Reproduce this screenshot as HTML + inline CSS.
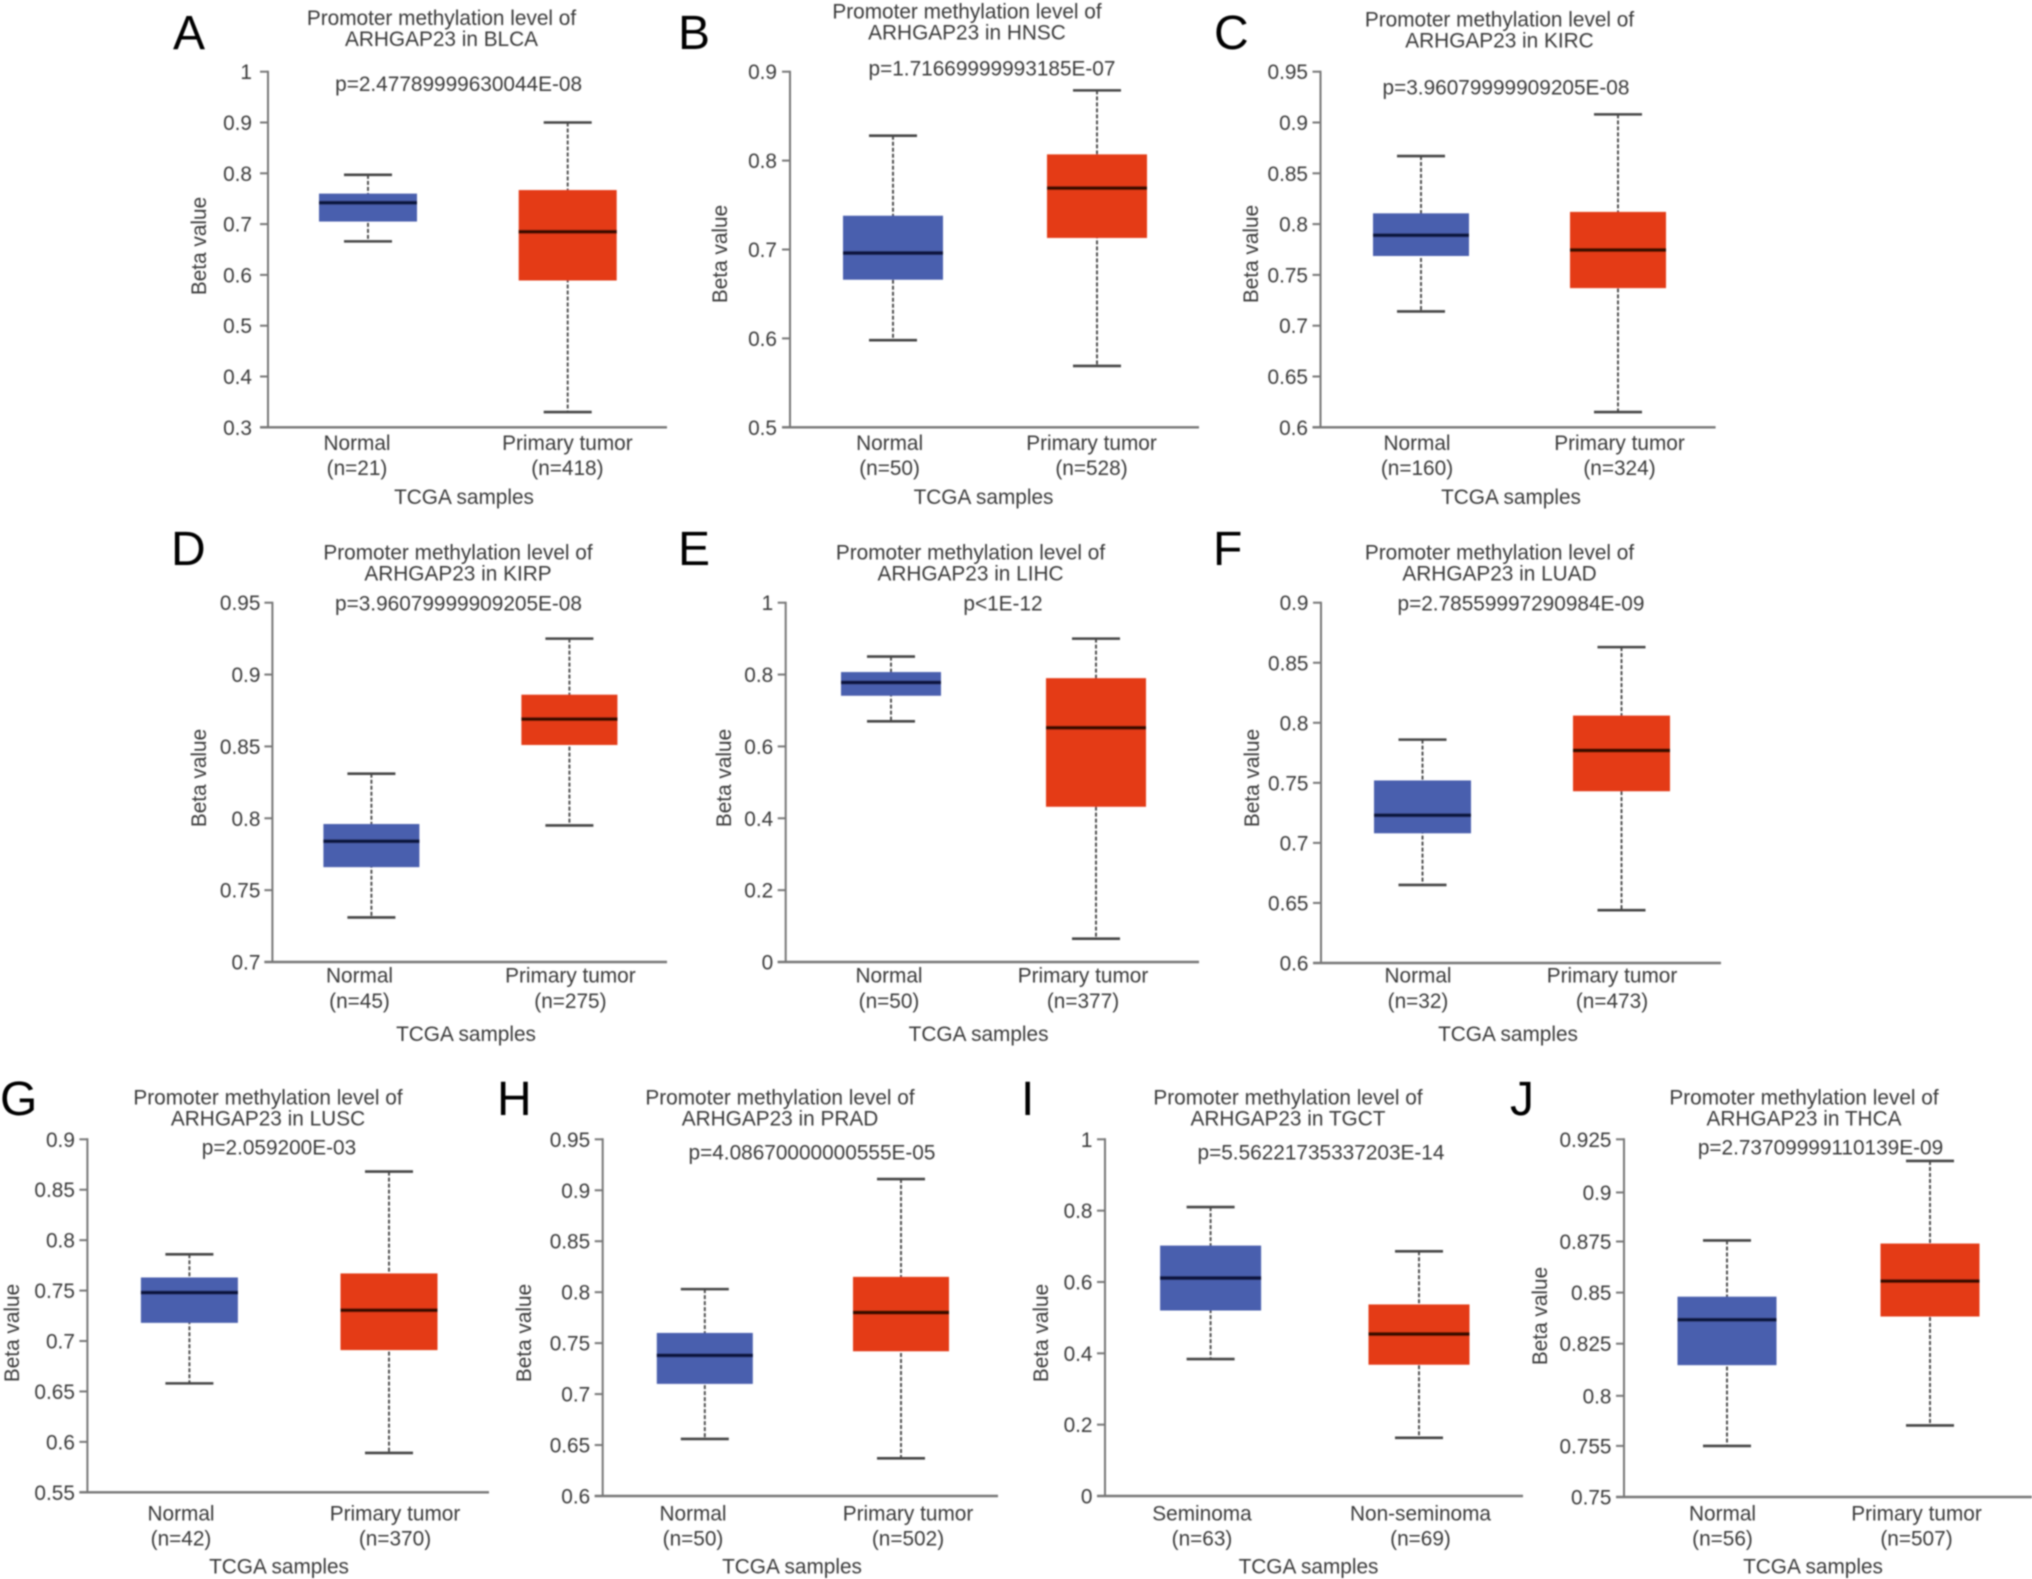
<!DOCTYPE html>
<html lang="en">
<head>
<meta charset="utf-8">
<title>ARHGAP23 promoter methylation boxplots</title>
<style>
html,body{margin:0;padding:0;background:#fff;width:2032px;height:1579px;overflow:hidden}
svg{display:block}
text{font-family:"Liberation Sans",sans-serif;fill:#3a3a3a;font-size:20.8px}
.mid{text-anchor:middle}
.letter{font-size:48px;fill:#000}
.ylab{text-anchor:middle}
</style>
</head>
<body>
<svg id="figure" xmlns="http://www.w3.org/2000/svg" width="2032" height="1579" viewBox="0 0 2032 1579">
<defs><filter id="soft" x="0" y="0" width="100%" height="100%"><feGaussianBlur stdDeviation="0.7"/></filter></defs>
<rect width="2032" height="1579" fill="#fff"/>
<g id="root" filter="url(#soft)">

<g id="panel-0">
<text class="letter" x="173" y="49">A</text>
<text class="mid" x="441.5" y="25">Promoter methylation level of</text>
<text class="mid" x="441.5" y="46">ARHGAP23 in BLCA</text>
<text class="mid" x="458.6" y="91">p=2.47789999630044E-08</text>
<text class="ylab" transform="translate(206,246) rotate(-90)">Beta value</text>
<text class="mid" x="357" y="450">Normal</text>
<text class="mid" x="357" y="475">(n=21)</text>
<text class="mid" x="567.4" y="450">Primary tumor</text>
<text class="mid" x="567.4" y="475">(n=418)</text>
<text class="mid" x="464" y="504">TCGA samples</text>
</g>

<g id="panel-1">
<text class="letter" x="678" y="49">B</text>
<text class="mid" x="967" y="18.5">Promoter methylation level of</text>
<text class="mid" x="967" y="39.5">ARHGAP23 in HNSC</text>
<text class="mid" x="992" y="75.5">p=1.71669999993185E-07</text>
<text class="ylab" transform="translate(727,254) rotate(-90)">Beta value</text>
<text class="mid" x="889.6" y="450">Normal</text>
<text class="mid" x="889.6" y="475">(n=50)</text>
<text class="mid" x="1091.5" y="450">Primary tumor</text>
<text class="mid" x="1091.5" y="475">(n=528)</text>
<text class="mid" x="983.5" y="504">TCGA samples</text>
</g>

<g id="panel-2">
<text class="letter" x="1214" y="49">C</text>
<text class="mid" x="1499.5" y="26.5">Promoter methylation level of</text>
<text class="mid" x="1499.5" y="47.5">ARHGAP23 in KIRC</text>
<text class="mid" x="1506" y="94.5">p=3.96079999909205E-08</text>
<text class="ylab" transform="translate(1258,254) rotate(-90)">Beta value</text>
<text class="mid" x="1417" y="450">Normal</text>
<text class="mid" x="1417" y="475">(n=160)</text>
<text class="mid" x="1619.5" y="450">Primary tumor</text>
<text class="mid" x="1619.5" y="475">(n=324)</text>
<text class="mid" x="1511" y="504">TCGA samples</text>
</g>

<g id="panel-3">
<text class="letter" x="171" y="565">D</text>
<text class="mid" x="458" y="559.5">Promoter methylation level of</text>
<text class="mid" x="458" y="580.5">ARHGAP23 in KIRP</text>
<text class="mid" x="458.5" y="610.5">p=3.96079999909205E-08</text>
<text class="ylab" transform="translate(206,778) rotate(-90)">Beta value</text>
<text class="mid" x="359.5" y="982.7">Normal</text>
<text class="mid" x="359.5" y="1008">(n=45)</text>
<text class="mid" x="570.4" y="982.7">Primary tumor</text>
<text class="mid" x="570.4" y="1008">(n=275)</text>
<text class="mid" x="466" y="1041">TCGA samples</text>
</g>

<g id="panel-4">
<text class="letter" x="678" y="565">E</text>
<text class="mid" x="970.5" y="559.5">Promoter methylation level of</text>
<text class="mid" x="970.5" y="580.5">ARHGAP23 in LIHC</text>
<text class="mid" x="1003" y="610.5">p&lt;1E-12</text>
<text class="ylab" transform="translate(731,778) rotate(-90)">Beta value</text>
<text class="mid" x="889" y="982.7">Normal</text>
<text class="mid" x="889" y="1008">(n=50)</text>
<text class="mid" x="1083" y="982.7">Primary tumor</text>
<text class="mid" x="1083" y="1008">(n=377)</text>
<text class="mid" x="978.6" y="1041">TCGA samples</text>
</g>

<g id="panel-5">
<text class="letter" x="1213" y="565">F</text>
<text class="mid" x="1499.5" y="559.5">Promoter methylation level of</text>
<text class="mid" x="1499.5" y="580.5">ARHGAP23 in LUAD</text>
<text class="mid" x="1521" y="610.5">p=2.78559997290984E-09</text>
<text class="ylab" transform="translate(1259,778) rotate(-90)">Beta value</text>
<text class="mid" x="1418" y="982.7">Normal</text>
<text class="mid" x="1418" y="1008">(n=32)</text>
<text class="mid" x="1612" y="982.7">Primary tumor</text>
<text class="mid" x="1612" y="1008">(n=473)</text>
<text class="mid" x="1508" y="1041">TCGA samples</text>
</g>

<g id="panel-6">
<text class="letter" x="0" y="1115">G</text>
<text class="mid" x="268" y="1104.5">Promoter methylation level of</text>
<text class="mid" x="268" y="1125.5">ARHGAP23 in LUSC</text>
<text class="mid" x="279" y="1154.5">p=2.059200E-03</text>
<text class="ylab" transform="translate(19,1333) rotate(-90)">Beta value</text>
<text class="mid" x="181" y="1520.7">Normal</text>
<text class="mid" x="181" y="1545.7">(n=42)</text>
<text class="mid" x="395" y="1520.7">Primary tumor</text>
<text class="mid" x="395" y="1545.7">(n=370)</text>
<text class="mid" x="279" y="1573.7">TCGA samples</text>
</g>

<g id="panel-7">
<text class="letter" x="497" y="1115">H</text>
<text class="mid" x="780" y="1104.5">Promoter methylation level of</text>
<text class="mid" x="780" y="1125.5">ARHGAP23 in PRAD</text>
<text class="mid" x="812" y="1159.5">p=4.08670000000555E-05</text>
<text class="ylab" transform="translate(531,1333) rotate(-90)">Beta value</text>
<text class="mid" x="693" y="1520.7">Normal</text>
<text class="mid" x="693" y="1545.7">(n=50)</text>
<text class="mid" x="908" y="1520.7">Primary tumor</text>
<text class="mid" x="908" y="1545.7">(n=502)</text>
<text class="mid" x="792" y="1573.7">TCGA samples</text>
</g>

<g id="panel-8">
<text class="letter" x="1021" y="1115">I</text>
<text class="mid" x="1288" y="1104.5">Promoter methylation level of</text>
<text class="mid" x="1288" y="1125.5">ARHGAP23 in TGCT</text>
<text class="mid" x="1321" y="1159.5">p=5.56221735337203E-14</text>
<text class="ylab" transform="translate(1048,1333) rotate(-90)">Beta value</text>
<text class="mid" x="1202" y="1520.7">Seminoma</text>
<text class="mid" x="1202" y="1545.7">(n=63)</text>
<text class="mid" x="1420.5" y="1520.7">Non-seminoma</text>
<text class="mid" x="1420.5" y="1545.7">(n=69)</text>
<text class="mid" x="1308.5" y="1573.7">TCGA samples</text>
</g>

<g id="panel-9">
<text class="letter" x="1510" y="1115">J</text>
<text class="mid" x="1804" y="1104.5">Promoter methylation level of</text>
<text class="mid" x="1804" y="1125.5">ARHGAP23 in THCA</text>
<text class="mid" x="1820.5" y="1154.5">p=2.73709999110139E-09</text>
<text class="ylab" transform="translate(1547,1316) rotate(-90)">Beta value</text>
<text class="mid" x="1722.5" y="1520.7">Normal</text>
<text class="mid" x="1722.5" y="1545.7">(n=56)</text>
<text class="mid" x="1916.5" y="1520.7">Primary tumor</text>
<text class="mid" x="1916.5" y="1545.7">(n=507)</text>
<text class="mid" x="1813" y="1573.7">TCGA samples</text>
</g>
</g>
</svg>
<script>
// Chart values, one entry per panel (A..J); each pair is [first group, second group].
const cancers = ['blca','hnsc','kirc','kirp','lihc','luad','lusc','prad','tgct','thca'];
const tickValues = [
  [0.3,0.4,0.5,0.6,0.7,0.8,0.9,1],
  [0.5,0.6,0.7,0.8,0.9],
  [0.6,0.65,0.7,0.75,0.8,0.85,0.9,0.95],
  [0.7,0.75,0.8,0.85,0.9,0.95],
  [0,0.2,0.4,0.6,0.8,1],
  [0.6,0.65,0.7,0.75,0.8,0.85,0.9],
  [0.55,0.6,0.65,0.7,0.75,0.8,0.85,0.9],
  [0.6,0.65,0.7,0.75,0.8,0.85,0.9,0.95],
  [0,0.2,0.4,0.6,0.8,1],
  [0.75,0.775,0.7995,0.825,0.85,0.875,0.899,0.925]
];
const tickLabels = [
  ['0.3','0.4','0.5','0.6','0.7','0.8','0.9','1'],
  ['0.5','0.6','0.7','0.8','0.9'],
  ['0.6','0.65','0.7','0.75','0.8','0.85','0.9','0.95'],
  ['0.7','0.75','0.8','0.85','0.9','0.95'],
  ['0','0.2','0.4','0.6','0.8','1'],
  ['0.6','0.65','0.7','0.75','0.8','0.85','0.9'],
  ['0.55','0.6','0.65','0.7','0.75','0.8','0.85','0.9'],
  ['0.6','0.65','0.7','0.75','0.8','0.85','0.9','0.95'],
  ['0','0.2','0.4','0.6','0.8','1'],
  ['0.75','0.755','0.8','0.825','0.85','0.875','0.9','0.925']
];
const whiskerHigh = [[0.797,0.9],[0.828,0.879],[0.867,0.908],[0.831,0.925],[0.85,0.9],[0.786,0.863],[0.786,0.868],[0.803,0.911],[0.81,0.686],[0.8755,0.9144]];
const upperQuartile = [[0.76,0.767],[0.738,0.807],[0.8106,0.812],[0.796,0.886],[0.807,0.79],[0.752,0.806],[0.763,0.767],[0.76,0.815],[0.702,0.537],[0.848,0.874]];
const medians = [[0.742,0.685],[0.696,0.769],[0.789,0.7745],[0.784,0.869],[0.778,0.652],[0.723,0.777],[0.748,0.7305],[0.738,0.78],[0.611,0.454],[0.8367,0.8556]];
const lowerQuartile = [[0.705,0.589],[0.666,0.713],[0.7686,0.737],[0.766,0.851],[0.741,0.432],[0.708,0.743],[0.718,0.691],[0.71,0.742],[0.52,0.368],[0.8145,0.8383]];
const whiskerLow = [[0.666,0.33],[0.598,0.569],[0.714,0.615],[0.731,0.795],[0.67,0.0649],[0.665,0.644],[0.658,0.589],[0.656,0.637],[0.384,0.163],[0.775,0.785]];

// Panel geometry (layout only): axis origin, extents, and category placement.
const SVGNS = 'http://www.w3.org/2000/svg';
const frameLeft  = [268,790,1320.5,272.4,785.7,1321,87.4,602.7,1105,1624];
const frameRight = [667,1199,1715.6,667,1199,1721,489,998,1523,2032];
const frameTop   = [71.7,71.7,71.7,602.7,602.7,602.7,1139.3,1139.3,1139.3,1139.3];
const frameBase  = [427.3,427.3,427.3,962,962,963,1492.3,1496,1496,1497];
const firstCenter = [368,893,1421,371.4,891,1422.5,189.4,704.8,1210.6,1727];
const centerStep  = [199.7,204,197,198,205,199,199.6,196.2,208.4,203];
const boxWidth = [98,100,96,96,100,97,97,96,101,99];
const labelGap = [16,13,12.5,12,12.5,12.5,12.5,12.5,12.5,12.5];
const capWidth = 48;
const axisColor = '#777';
const blueBox = '#4a5eae', redBox = '#e43a14', blueMedian = '#0c1440', redMedian = '#3a0a02';

function mk(tag, parent, attrs) {
  const el = document.createElementNS(SVGNS, tag);
  for (const k in attrs) el.setAttribute(k, attrs[k]);
  parent.appendChild(el);
  return el;
}
function yScale(p, v) {
  const t = tickValues[p];
  const lo = t[0], hi = t[t.length - 1];
  return frameBase[p] - (v - lo) / (hi - lo) * (frameBase[p] - frameTop[p]);
}
function xScale(p, i) {
  return firstCenter[p] + i * centerStep[p];
}

cancers.forEach(function (code, p) {
  const g = document.getElementById('panel-' + p);

  const yAxis = mk('line', g, {x1: frameLeft[p], x2: frameLeft[p], y1: frameTop[p] - 1, y2: frameBase[p], stroke: axisColor, 'stroke-width': 2});
  
  

  const xAxis = mk('line', g, {x1: frameLeft[p] - 8, x2: frameRight[p], y1: frameBase[p], y2: frameBase[p], stroke: axisColor, 'stroke-width': 2.4});
  
  

  tickValues[p].forEach(function (v, k) {
    const y = yScale(p, v);
    const tick = mk('line', g, {x1: frameLeft[p] - 8, x2: frameLeft[p], y1: y, y2: y, stroke: axisColor, 'stroke-width': 2});
    
    
    const label = mk('text', g, {x: frameLeft[p] - labelGap[p], y: y + 7.5, 'text-anchor': 'end'});
    
    
    label.textContent = tickLabels[p][k];
  });

  [0, 1].forEach(function (i) {
    const cx = xScale(p, i);
    const hi = yScale(p, whiskerHigh[p][i]);
    const q3 = yScale(p, upperQuartile[p][i]);
    const med = yScale(p, medians[p][i]);
    const q1 = yScale(p, lowerQuartile[p][i]);
    const lo = yScale(p, whiskerLow[p][i]);
    const bw = boxWidth[p];
    const series = i === 0 ? 'first-group' : 'second-group';

    const whisker = mk('line', g, {x1: cx, x2: cx, y1: hi, y2: lo, stroke: '#4a4a4a', 'stroke-width': 1.9, 'stroke-dasharray': '4 2'});
    
    

    const capHigh = mk('line', g, {x1: cx - capWidth / 2, x2: cx + capWidth / 2, y1: hi, y2: hi, stroke: '#444', 'stroke-width': 2.6});
    
    

    const capLow = mk('line', g, {x1: cx - capWidth / 2, x2: cx + capWidth / 2, y1: lo, y2: lo, stroke: '#444', 'stroke-width': 2.6});
    
    

    const box = mk('rect', g, {x: cx - bw / 2, y: q3, width: bw, height: q1 - q3, fill: i === 0 ? blueBox : redBox});
    
    

    const median = mk('line', g, {x1: cx - bw / 2, x2: cx + bw / 2, y1: med, y2: med, stroke: i === 0 ? blueMedian : redMedian, 'stroke-width': 3.8});
    
    
  });
});
</script>
</body>
</html>
